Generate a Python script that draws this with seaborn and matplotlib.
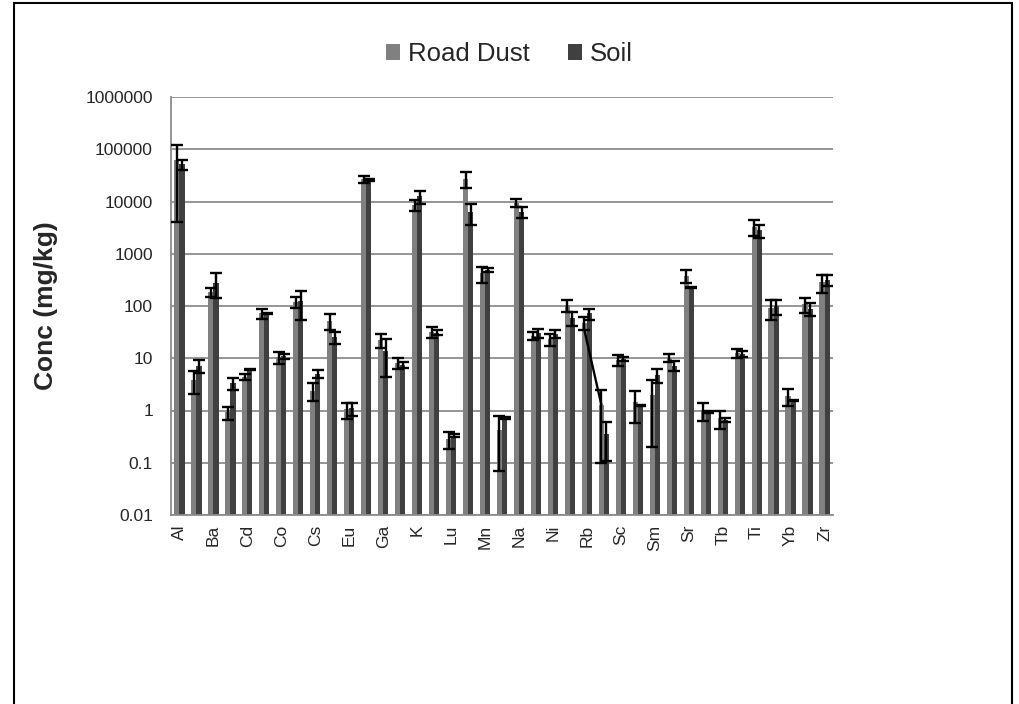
import numpy as np
import pandas as pd
import seaborn as sns
import matplotlib.pyplot as plt
from matplotlib.patches import Rectangle
from matplotlib.ticker import FixedLocator, FuncFormatter

elements = ["Al", "As", "Ba", "Br", "Cd", "Ce", "Co", "Cr", "Cs", "Cu",
            "Eu", "Fe", "Ga", "Hf", "K", "La", "Lu", "Mg", "Mn", "Mo",
            "Na", "Nd", "Ni", "Pb", "Rb", "Sb", "Sc", "Se", "Sm", "Sn",
            "Sr", "Ta", "Tb", "Th", "Ti", "U", "Yb", "Zn", "Zr"]

road_dust = [62000, 3.9, 185, 0.92, 4.4, 72, 10.6, 120, 2.4, 52,
             1.05, 26700, 22.5, 8.1, 8500, 32, 0.28, 27000, 420, 0.42,
             9400, 27, 23, 105, 48, 1.3, 9.4, 1.46, 2.0, 10.2,
             375, 1.03, 0.72, 12.6, 3300, 92, 1.9, 110, 290]
road_dust_err = [58000, 1.8, 35, 0.25, 0.5, 15, 2.8, 28, 0.9, 17,
                 0.35, 4300, 7, 2.0, 2000, 8, 0.1, 9000, 150, 0.35,
                 1600, 5, 6, 28, 13, 1.2, 2.2, 0.88, 1.8, 1.9,
                 105, 0.39, 0.27, 2.7, 1150, 38, 0.67, 35, 110]

soil = [51700, 7.2, 280, 3.36, 6.0, 72, 11, 122, 5.0, 25,
        1.1, 26000, 14, 7.5, 12500, 31, 0.33, 6250, 490, 0.72,
        6300, 30, 29, 59, 72, 0.36, 9.8, 1.25, 4.85, 7.2,
        225, 0.93, 0.66, 12, 2800, 98, 1.55, 88, 320]
soil_err = [11400, 2.0, 140, 0.9, 0.1, 3, 1.2, 69, 0.9, 6.6,
            0.3, 1500, 9.6, 1.0, 3500, 3, 0.02, 2760, 50, 0.03,
            1500, 6, 5, 18, 17, 0.25, 1.0, 0.03, 1.45, 1.6,
            5, 0.05, 0.05, 1.5, 800, 30, 0.05, 25, 80]

series = ["Road Dust", "Soil"]
colors = ["#808080", "#404040"]
y_ticks = [0.01, 0.1, 1, 10, 100, 1000, 10000, 100000, 1000000]

df = pd.DataFrame({
    "Element": elements * 2,
    "Source": [series[0]] * len(elements) + [series[1]] * len(elements),
    "Conc": road_dust + soil,
})

sns.set_style("white")
plt.rcParams["font.family"] = ["Liberation Sans", "DejaVu Sans"]

fig = plt.figure(figsize=(10.19, 7.04), dpi=100)
ax = fig.add_axes([171 / 1019, 1 - 515 / 704, 662 / 1019, 418 / 704])

sns.barplot(data=df, x="Element", y="Conc", hue="Source", order=elements,
            hue_order=series, palette=colors, width=0.6, errorbar=None,
            saturation=1, linewidth=0, ax=ax)
ax.set_yscale("log")
ax.set_ylim(0.01, 1000000)
ax.set_xlim(-0.5, len(elements) - 0.5)

# error bars on top of each bar, taken from the bar centres
centres = []
for cont, vals, errs in zip(ax.containers, [road_dust, soil], [road_dust_err, soil_err]):
    xs = [p.get_x() + p.get_width() / 2 for p in cont]
    centres.append(xs)
    ax.errorbar(xs, vals, yerr=errs, fmt="none", ecolor="black",
                elinewidth=1.7, capsize=4.5, capthick=1.7, zorder=4)

# stray error-bar line from Rb down to Sb (as drawn in the original)
i_rb, i_sb = elements.index("Rb"), elements.index("Sb")
ax.plot([centres[0][i_rb], centres[0][i_sb]],
        [road_dust[i_rb] - road_dust_err[i_rb], road_dust[i_sb]],
        color="black", lw=1.7, zorder=4)

# grid and axes styling
ax.yaxis.set_major_locator(FixedLocator(y_ticks))
ax.yaxis.set_minor_locator(FixedLocator([]))
ax.yaxis.set_major_formatter(FuncFormatter(lambda v, p: f"{v:.0f}" if v >= 1 else f"{v:g}"))
ax.grid(axis="y", color="#8c8c8c", lw=1.3)
ax.set_axisbelow(True)
for s in ["top", "right"]:
    ax.spines[s].set_visible(False)
for s in ["left", "bottom"]:
    ax.spines[s].set_color("#8c8c8c")
    ax.spines[s].set_linewidth(1.3)
ax.tick_params(axis="y", which="major", length=5, color="#8c8c8c", width=1.2,
               labelsize=12.5, pad=8)

ax.set_xticks(range(len(elements)))
ax.set_xticklabels([e if i % 2 == 0 else "" for i, e in enumerate(elements)],
                   rotation=90, fontsize=12.5)
ax.tick_params(axis="x", which="major", length=0, pad=7)
ax.set_xticks(np.arange(-0.5, len(elements)), minor=True)
ax.tick_params(axis="x", which="minor", length=5, color="#8c8c8c", width=1.2)

ax.set_xlabel("")
ax.set_ylabel("Conc (mg/kg)", fontsize=19, fontweight="bold")
ax.yaxis.set_label_coords(-0.17, 0.5)

handles, labels = ax.get_legend_handles_labels()
ax.legend(handles, labels, loc="center", bbox_to_anchor=(0.5, 1 - 54 / 704),
          bbox_transform=fig.transFigure, ncol=2, frameon=False, fontsize=18.5,
          handlelength=0.55, handleheight=0.55, handletextpad=0.3, columnspacing=1.5)

# outer chart border
fig.patches.append(Rectangle((14 / 1019, -0.02), 998 / 1019, 1 - 3 / 704 + 0.02,
                             transform=fig.transFigure, fill=False,
                             edgecolor="black", lw=1.5))

fig.savefig("out.png", dpi=100)
